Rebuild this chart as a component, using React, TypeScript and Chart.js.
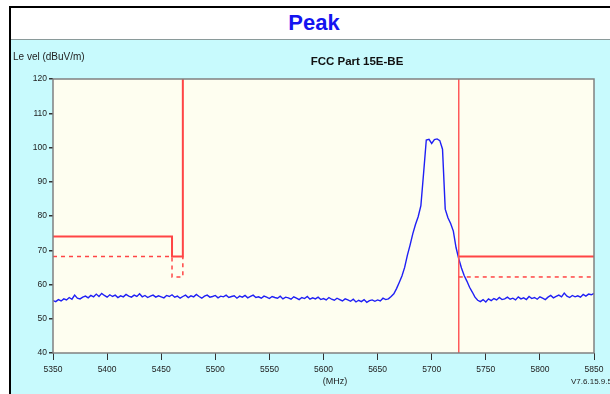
import React, { useEffect, useRef } from "react";
import { Chart, registerables } from "chart.js";

Chart.register(...registerables);

// Sweep of the measured trace (dBuV/m), one reading every traceStepMHz from traceStartMHz
const traceStartMHz = 5350;
const traceStepMHz = 2.5;
const traceLevels: number[] = [
  // 5350 - 5647.5
  55.3, 55.0, 55.6, 55.2, 55.8, 55.5, 56.2, 55.7, 56.9, 56.0,
  55.8, 56.3, 56.6, 56.1, 56.8, 56.4, 57.2, 56.5, 57.4, 56.8,
  56.3, 57.0, 56.5, 56.9, 56.2, 56.7, 56.4, 57.1, 56.6, 56.3,
  56.9, 56.5, 57.3, 56.4, 56.8, 56.2, 56.6, 56.9, 56.3, 56.7,
  56.4, 56.1, 56.8, 56.5, 57.0, 56.3, 56.6, 56.0, 56.5, 56.9,
  56.2, 56.7, 56.4, 57.1, 56.5, 56.0, 56.6, 56.9, 56.3, 56.5,
  56.8, 56.1, 56.6, 56.4, 56.9, 56.2, 56.5, 56.7, 56.0, 56.6,
  56.3, 56.8, 56.1, 56.5, 56.9, 56.2, 56.4, 56.0, 56.6, 56.3,
  55.9, 56.5, 56.2, 56.0, 56.6, 55.8, 56.3, 56.1, 55.7, 56.4,
  56.0, 55.6, 56.2, 55.9, 56.5, 55.7, 56.1, 55.8, 56.3, 55.6,
  55.9, 55.5, 56.2, 55.7, 55.4, 56.0, 55.6, 55.2, 55.8, 55.5,
  55.1, 55.7, 54.9, 55.4, 55.0, 55.6, 54.8, 55.3, 55.5, 55.1,
  // 5650 - 5742.5 (emission)
  55.5, 55.2, 56.0, 55.6, 55.8, 56.5, 57.3, 58.8, 60.6, 62.5,
  65.0, 68.5, 71.5, 74.8, 77.5, 79.8, 83.0, 92.5, 102.2, 102.4,
  101.2, 102.3, 102.5, 102.0, 99.5, 82.0, 79.5, 77.8, 75.6, 70.8,
  67.5, 64.8, 62.6, 61.0, 59.2, 57.8, 56.3, 55.4,
  // 5745 - 5850
  55.0, 55.6, 54.9, 55.8, 55.3, 55.9, 55.5, 56.2, 55.6, 55.8,
  56.3, 55.7, 56.0, 55.5, 56.4, 55.8, 56.1, 55.6, 56.5, 55.9,
  56.2, 55.7, 56.4, 56.0, 55.6, 56.3, 56.8, 56.1, 56.5, 56.9,
  56.4, 57.5, 56.6, 56.2, 56.8, 56.4, 56.7, 56.3, 57.1, 56.6,
  57.2, 57.0, 57.4,
];

// Limit lines (peak limit solid, reference limit dashed)
const leftPeakLimitFreq = [5350, 5460, 5460, 5470, 5470];
const leftPeakLimitLevel = [74, 74, 68.2, 68.2, 120];
const leftRefLimitFreq = [5350, 5460, 5460, 5470, 5470];
const leftRefLimitLevel = [68.2, 68.2, 62.2, 62.2, 68.2];
const bandEdgeFreq = [5725, 5725];
const bandEdgeLevel = [40, 120];
const rightPeakLimitFreq = [5725, 5850];
const rightPeakLimitLevel = [68.2, 68.2];
const rightRefLimitFreq = [5725, 5850];
const rightRefLimitLevel = [62.2, 62.2];

const xMin = 5350;
const xMax = 5850;
const xStep = 50;
const yMin = 40;
const yMax = 120;
const yStep = 10;

const titleText = "Peak";
const chartTitle = "FCC Part 15E-BE";
const yAxisLabel = "Le vel (dBuV/m)";
const xAxisLabel = "(MHz)";
const versionText = "V7.6.15.9.5";

function pairs(xs: number[], ys: number[]) {
  return xs.map((x, i) => ({ x, y: ys[i] }));
}

export default function App() {
  const ref = useRef<HTMLCanvasElement | null>(null);

  useEffect(() => {
    if (!ref.current) return;
    const trace = traceLevels.map((y, i) => ({ x: traceStartMHz + i * traceStepMHz, y }));
    const red = "#ff4545";
    const plotFrame = {
      id: "plotFrame",
      beforeDatasetsDraw(chart: any) {
        const { ctx, chartArea: a } = chart;
        ctx.save();
        ctx.fillStyle = "#fefef0";
        ctx.fillRect(a.left, a.top, a.right - a.left, a.bottom - a.top);
        ctx.restore();
      },
      afterDatasetsDraw(chart: any) {
        const { ctx, chartArea: a } = chart;
        ctx.save();
        ctx.strokeStyle = "#808080";
        ctx.lineWidth = 1.5;
        ctx.strokeRect(a.left, a.top, a.right - a.left, a.bottom - a.top);
        ctx.restore();
      },
    };
    const line = (data: any[], color: string, width: number, dash: number[] = []) => ({
      data,
      borderColor: color,
      borderWidth: width,
      borderDash: dash,
      pointRadius: 0,
      tension: 0,
      fill: false,
    });
    const chart = new Chart(ref.current, {
      type: "line",
      data: {
        datasets: [
          line(pairs(leftRefLimitFreq, leftRefLimitLevel), red, 1.5, [4, 4]),
          line(pairs(rightRefLimitFreq, rightRefLimitLevel), red, 1.5, [4, 4]),
          line(pairs(leftPeakLimitFreq, leftPeakLimitLevel), red, 2),
          line(pairs(rightPeakLimitFreq, rightPeakLimitLevel), red, 2),
          line(pairs(bandEdgeFreq, bandEdgeLevel), "#ff5a5a", 1.5),
          line(trace, "#1f1ff5", 1.4),
        ] as any,
      },
      options: {
        responsive: false,
        animation: false,
        layout: { padding: { left: 0, top: 39, right: 16, bottom: 0 } },
        plugins: { legend: { display: false }, title: { display: false }, tooltip: { enabled: false } },
        scales: {
          x: {
            type: "linear",
            min: xMin,
            max: xMax,
            afterFit: (s: any) => { s.height = 41; },
            grid: { display: true, drawOnChartArea: false, drawTicks: true, tickLength: 7, color: "#333", lineWidth: 1 },
            border: { display: false },
            ticks: {
              stepSize: xStep,
              padding: 5,
              maxRotation: 0,
              autoSkip: false,
              color: "#222",
              font: { family: "Liberation Sans", size: 8.5 },
              callback: (v: any) => String(v),
            },
          },
          y: {
            type: "linear",
            min: yMin,
            max: yMax,
            afterFit: (s: any) => { s.width = 42; },
            grid: { display: true, drawOnChartArea: false, drawTicks: true, tickLength: 4, color: "#333", lineWidth: 1.5 },
            border: { display: false },
            ticks: {
              stepSize: yStep,
              padding: 2,
              color: "#222",
              font: { family: "Liberation Sans", size: 8.5 },
              callback: (v: any) => String(v),
            },
          },
        },
      },
      plugins: [plotFrame],
    } as any);
    return () => chart.destroy();
  }, []);

  return (
    <div style={{ position: "fixed", left: 0, top: 0, width: 610, height: 394, background: "#fff", overflow: "hidden", fontFamily: "'Liberation Sans', Arial, sans-serif" }}>
      <div style={{ position: "absolute", left: 9, top: 6, width: 640, height: 420, borderLeft: "2px solid #000", borderTop: "2px solid #000" }} />
      <div style={{ position: "absolute", left: 11, top: 8, width: 606, height: 31, lineHeight: "30px", textAlign: "center", fontSize: 22, fontWeight: "bold", color: "#1414f0" }}>{titleText}</div>
      <div style={{ position: "absolute", left: 11, top: 39, width: 620, height: 380, background: "#c8fafd", borderTop: "1px solid #8a9a9a" }} />
      <canvas ref={ref} width={599} height={354} style={{ position: "absolute", left: 11, top: 40, width: 599, height: 354 }} />
      <div style={{ position: "absolute", left: 13, top: 51, fontSize: 10, color: "#222", whiteSpace: "nowrap" }}>{yAxisLabel}</div>
      <div style={{ position: "absolute", left: 257, width: 200, top: 55, textAlign: "center", fontSize: 11.5, fontWeight: "bold", color: "#111", whiteSpace: "nowrap" }}>{chartTitle}</div>
      <div style={{ position: "absolute", left: 285, width: 100, top: 376, textAlign: "center", fontSize: 9, color: "#222" }}>{xAxisLabel}</div>
      <div style={{ position: "absolute", left: 571, top: 377, fontSize: 8, color: "#222", whiteSpace: "nowrap" }}>{versionText}</div>
    </div>
  );
}
